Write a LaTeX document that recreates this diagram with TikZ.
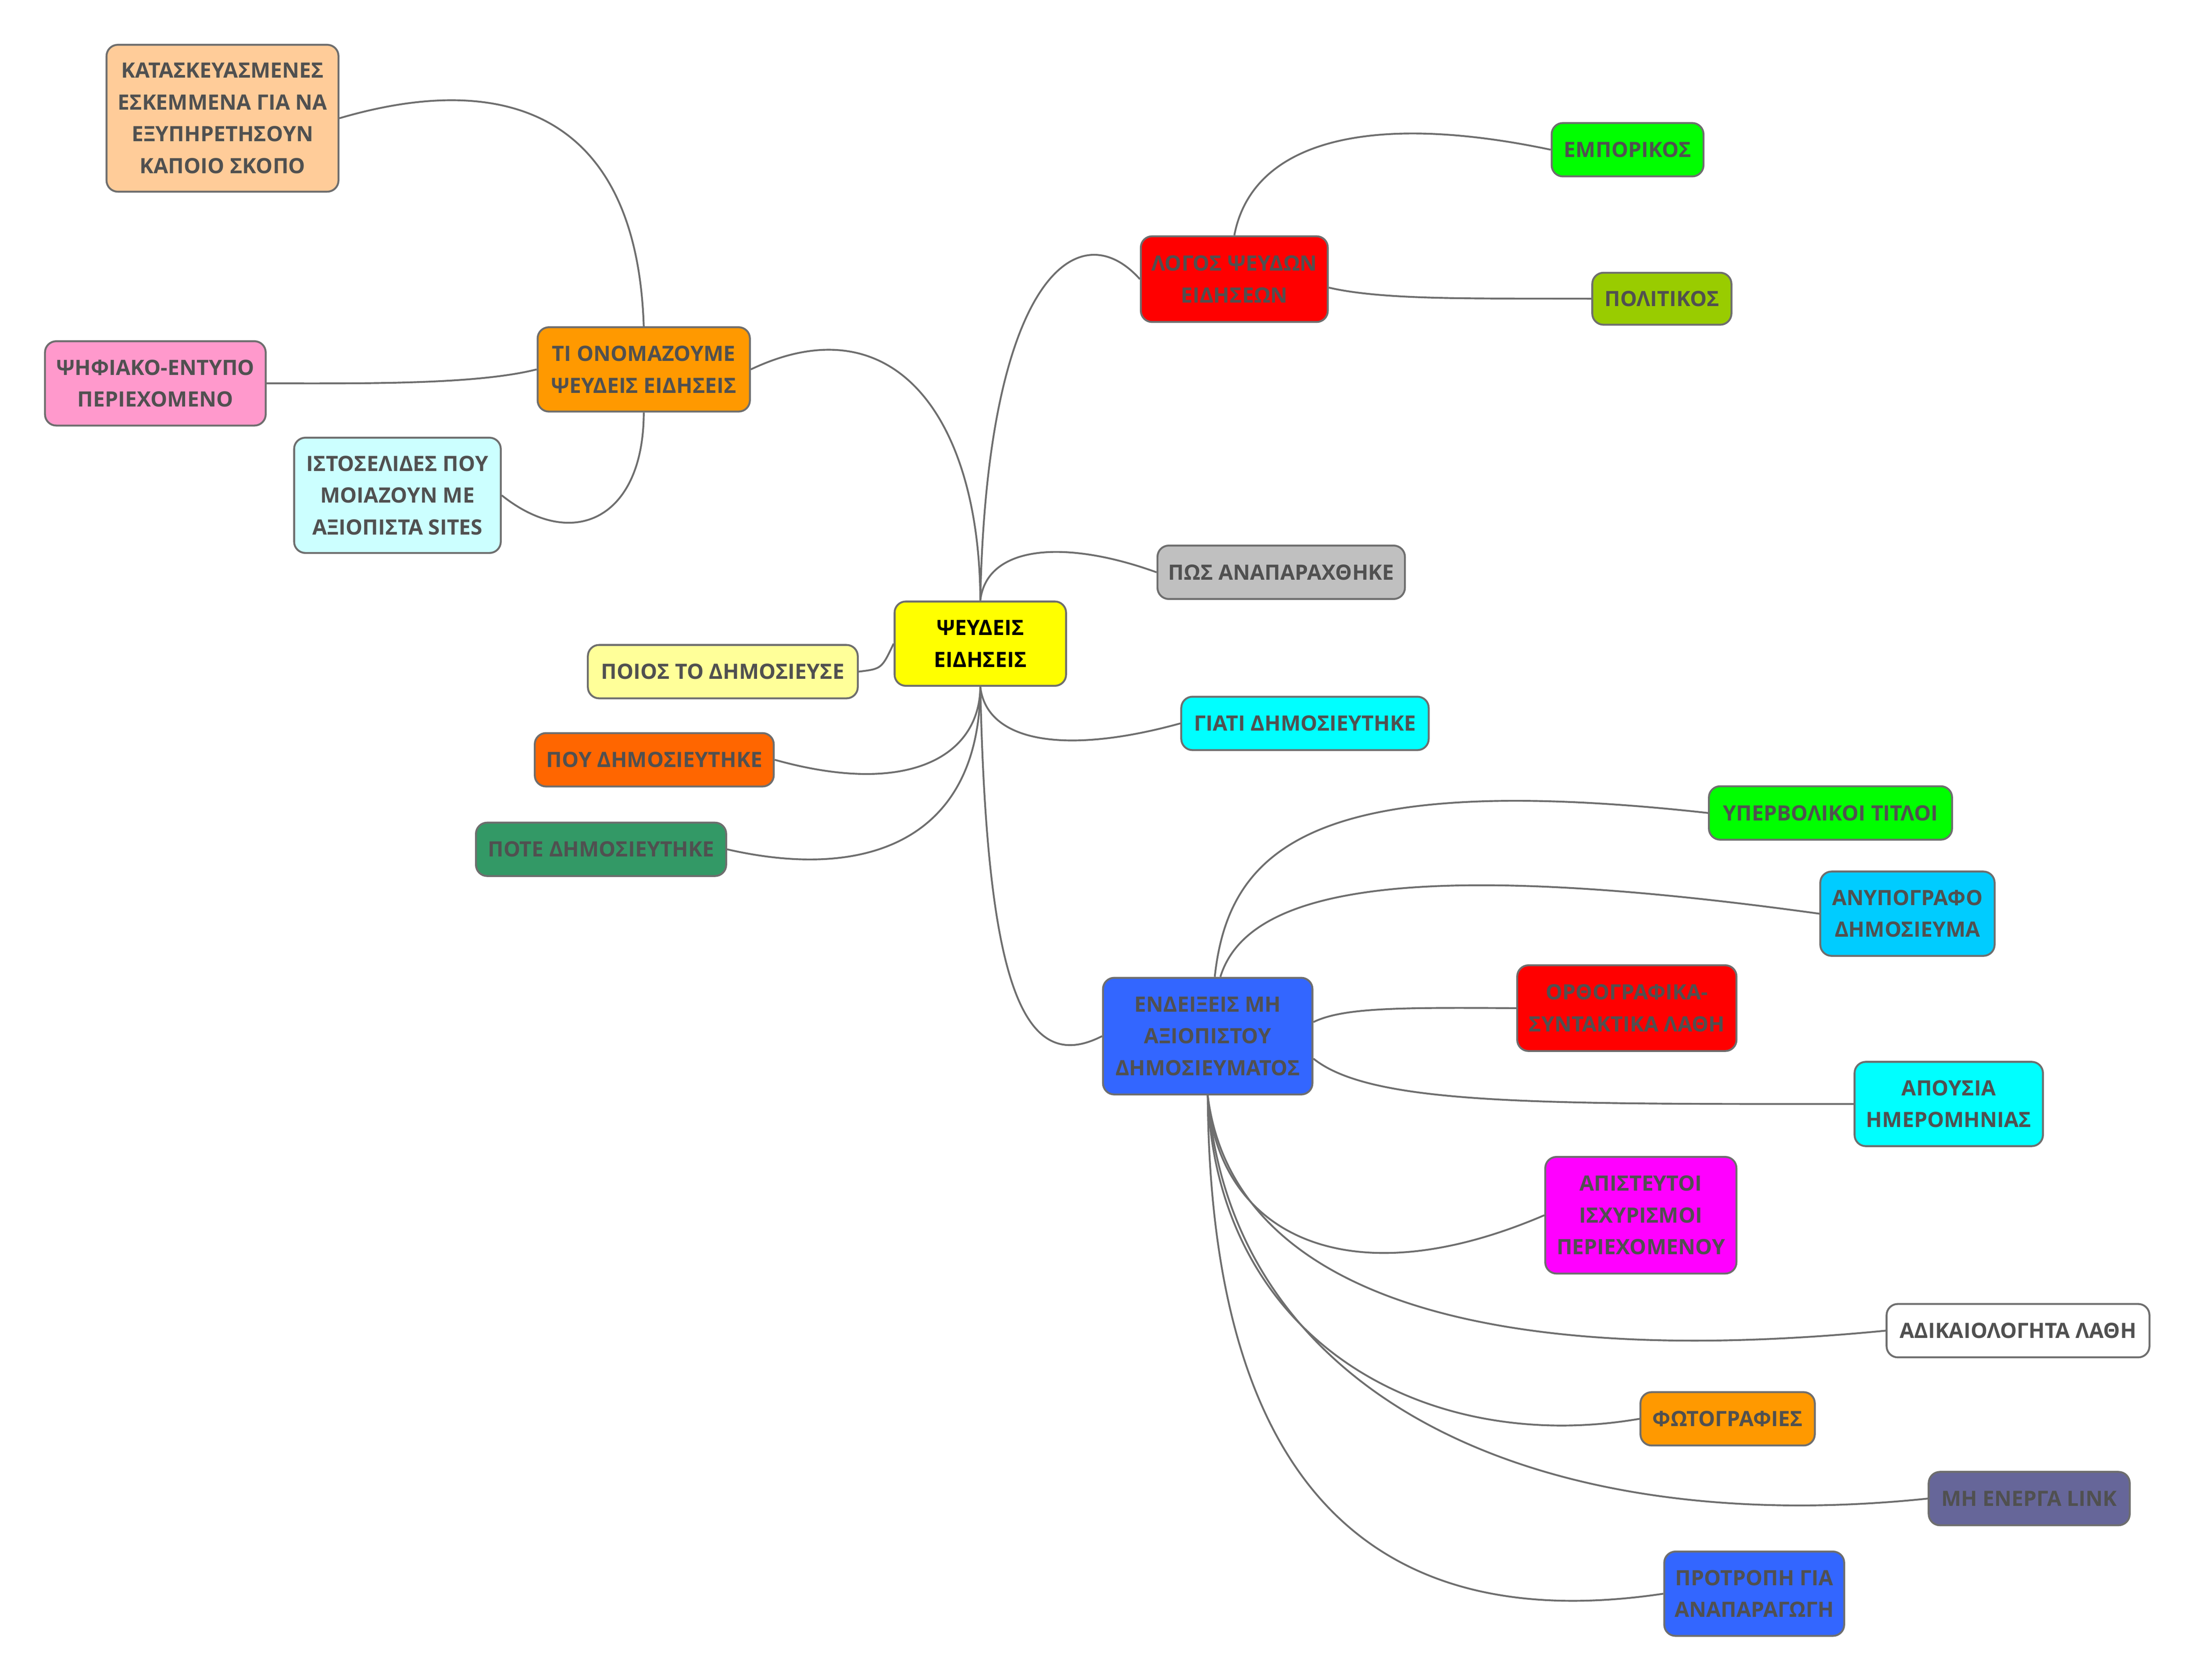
\documentclass[tikz,border=0pt]{standalone}
\usepackage{fontspec}
\setmainfont{Open Sans}
\definecolor{edgegray}{HTML}{6E6E6E}
\definecolor{txtgray}{HTML}{505050}
\definecolor{cPeach}{HTML}{FFCC99}
\definecolor{cPink}{HTML}{FF99CC}
\definecolor{cOrange}{HTML}{FF9900}
\definecolor{cPaleCyan}{HTML}{CCFFFF}
\definecolor{cYellow}{HTML}{FFFF00}
\definecolor{cPaleYellow}{HTML}{FFFF99}
\definecolor{cDarkOrange}{HTML}{FF6600}
\definecolor{cSeaGreen}{HTML}{339966}
\definecolor{cRed}{HTML}{FF0000}
\definecolor{cGreen}{HTML}{00FF00}
\definecolor{cOlive}{HTML}{99CC00}
\definecolor{cSilver}{HTML}{C0C0C0}
\definecolor{cCyan}{HTML}{00FFFF}
\definecolor{cBlue}{HTML}{3366FF}
\definecolor{cSky}{HTML}{00CCFF}
\definecolor{cMagenta}{HTML}{FF00FF}
\definecolor{cSlate}{HTML}{666699}
\tikzset{
  mbox/.style={draw=edgegray, line width=1.35pt, rounded corners=8pt, align=center,
    inner sep=0pt, text=txtgray, font=\fontsize{15}{22.6}\selectfont\bfseries},
  link/.style={draw=edgegray, line width=1.3pt}
}
\begin{document}
\begin{tikzpicture}[x=0.9955pt,y=-0.9955pt]
\useasboundingbox (0,0) rectangle (1567.05,1200.6);
% nodes
\node[mbox, fill=cPeach, minimum width=165pt, minimum height=104.5pt] (kat) at (159,84.5) {ΚΑΤΑΣΚΕΥΑΣΜΕΝΕΣ\\ΕΣΚΕΜΜΕΝΑ ΓΙΑ ΝΑ\\ΕΞΥΠΗΡΕΤΗΣΟΥΝ\\ΚΑΠΟΙΟ ΣΚΟΠΟ};
\node[mbox, fill=cPink, minimum width=157pt, minimum height=60pt] (psif) at (111,274) {ΨΗΦΙΑΚΟ-ΕΝΤΥΠΟ\\ΠΕΡΙΕΧΟΜΕΝΟ};
\node[mbox, fill=cOrange, minimum width=151pt, minimum height=60pt] (ti) at (460,264) {ΤΙ ΟΝΟΜΑΖΟΥΜΕ\\ΨΕΥΔΕΙΣ ΕΙΔΗΣΕΙΣ};
\node[mbox, fill=cPaleCyan, minimum width=147pt, minimum height=82pt] (isto) at (284,354) {ΙΣΤΟΣΕΛΙΔΕΣ ΠΟΥ\\ΜΟΙΑΖΟΥΝ ΜΕ\\ΑΞΙΟΠΙΣΤΑ SITES};
\node[mbox, fill=cYellow, text=black, minimum width=122pt, minimum height=60pt] (root) at (700.5,460) {ΨΕΥΔΕΙΣ\\ΕΙΔΗΣΕΙΣ};
\node[mbox, fill=cPaleYellow, minimum width=192pt, minimum height=38pt] (poios) at (516.5,480) {ΠΟΙΟΣ ΤΟ ΔΗΜΟΣΙΕΥΣΕ};
\node[mbox, fill=cDarkOrange, minimum width=170pt, minimum height=38pt] (pou) at (467.5,543) {ΠΟΥ ΔΗΜΟΣΙΕΥΤΗΚΕ};
\node[mbox, fill=cSeaGreen, minimum width=178pt, minimum height=38pt] (pote) at (429.5,607) {ΠΟΤΕ ΔΗΜΟΣΙΕΥΤΗΚΕ};
\node[mbox, fill=cRed, minimum width=133pt, minimum height=61pt] (logos) at (882,199.5) {ΛΟΓΟΣ ΨΕΥΔΩΝ\\ΕΙΔΗΣΕΩΝ};
\node[mbox, fill=cGreen, minimum width=108pt, minimum height=38pt] (empor) at (1163,107) {ΕΜΠΟΡΙΚΟΣ};
\node[mbox, fill=cOlive, minimum width=99pt, minimum height=37pt] (polit) at (1187.5,213.5) {ΠΟΛΙΤΙΚΟΣ};
\node[mbox, fill=cSilver, minimum width=176pt, minimum height=38pt] (pos) at (915.5,409) {ΠΩΣ ΑΝΑΠΑΡΑΧΘΗΚΕ};
\node[mbox, fill=cCyan, minimum width=176pt, minimum height=38pt] (giati) at (932.5,517) {ΓΙΑΤΙ ΔΗΜΟΣΙΕΥΤΗΚΕ};
\node[mbox, fill=cBlue, minimum width=149pt, minimum height=83pt] (endx) at (863,740.5) {ΕΝΔΕΙΞΕΙΣ ΜΗ\\ΑΞΙΟΠΙΣΤΟΥ\\ΔΗΜΟΣΙΕΥΜΑΤΟΣ};
\node[mbox, fill=cGreen, minimum width=173pt, minimum height=38pt] (yperb) at (1308,581) {ΥΠΕΡΒΟΛΙΚΟΙ ΤΙΤΛΟΙ};
\node[mbox, fill=cSky, minimum width=124pt, minimum height=60pt] (anyp) at (1363,653) {ΑΝΥΠΟΓΡΑΦΟ\\ΔΗΜΟΣΙΕΥΜΑ};
\node[mbox, fill=cRed, minimum width=156pt, minimum height=61pt] (orth) at (1162.5,720.5) {ΟΡΘΟΓΡΑΦΙΚΑ-\\ΣΥΝΤΑΚΤΙΚΑ ΛΑΘΗ};
\node[mbox, fill=cCyan, minimum width=134pt, minimum height=60pt] (apous) at (1392.5,789) {ΑΠΟΥΣΙΑ\\ΗΜΕΡΟΜΗΝΙΑΣ};
\node[mbox, fill=cMagenta, minimum width=136pt, minimum height=83pt] (apist) at (1172.5,868.5) {ΑΠΙΣΤΕΥΤΟΙ\\ΙΣΧΥΡΙΣΜΟΙ\\ΠΕΡΙΕΧΟΜΕΝΟΥ};
\node[mbox, fill=white, minimum width=187pt, minimum height=38pt] (adik) at (1442,951) {ΑΔΙΚΑΙΟΛΟΓΗΤΑ ΛΑΘΗ};
\node[mbox, fill=cOrange, minimum width=124pt, minimum height=38pt] (foto) at (1234.5,1014) {ΦΩΤΟΓΡΑΦΙΕΣ};
\node[mbox, fill=cSlate, minimum width=143pt, minimum height=38pt] (mhen) at (1450,1071) {ΜΗ ΕΝΕΡΓΑ LINK};
\node[mbox, fill=cBlue, minimum width=128pt, minimum height=60pt] (protr) at (1253.5,1139) {ΠΡΟΤΡΟΠΗ ΓΙΑ\\ΑΝΑΠΑΡΑΓΩΓΗ};
% connectors
\path[link] (root.north) .. controls (700,300) and (640,215) .. (ti.east);
\path[link] (root.north) .. controls (705,200) and (770,150) .. (logos.west);
\path[link] (root.north) .. controls (705,390) and (760,385) .. (pos.west);
\path[link] (root.west) .. controls (630,478) .. (poios.east);
\path[link] (root.south) .. controls (700,540) and (650,570) .. (pou.east);
\path[link] (root.south) .. controls (700,600) and (620,630) .. (pote.east);
\path[link] (root.south) .. controls (705,530) and (760,540) .. (giati.west);
\path[link] (root.south) .. controls (705,700) and (730,770) .. (endx.west);
\path[link] (ti.north) .. controls (455,80) and (360,50) .. (kat.east);
\path[link] (ti.west) .. controls (340,275) and (260,274) .. (psif.east);
\path[link] (ti.south) .. controls (460,370) and (410,395) .. (isto.east);
\path[link] (logos.north) .. controls (895,100) and (980,80) .. (empor.west);
\path[link] ([yshift=-6pt]logos.east) .. controls (990,215) and (1060,213) .. (polit.west);
\path[link] ([xshift=5pt]endx.north) .. controls (878,605) and (940,550) .. (yperb.west);
\path[link] ([xshift=9pt]endx.north) .. controls (890,640) and (990,610) .. (anyp.west);
\path[link] ([yshift=10pt]endx.east) .. controls (960,720) and (1000,720) .. (orth.west);
\path[link] ([yshift=-16pt]endx.east) .. controls (980,790) and (1100,789) .. (apous.west);
\path[link] (endx.south) .. controls (870,880) and (960,930) .. (apist.west);
\path[link] (endx.south) .. controls (880,920) and (1050,980) .. (adik.west);
\path[link] (endx.south) .. controls (870,960) and (1020,1040) .. (foto.west);
\path[link] (endx.south) .. controls (880,1000) and (1100,1100) .. (mhen.west);
\path[link] (endx.south) .. controls (865,1060) and (980,1170) .. (protr.west);
\end{tikzpicture}
\end{document}
